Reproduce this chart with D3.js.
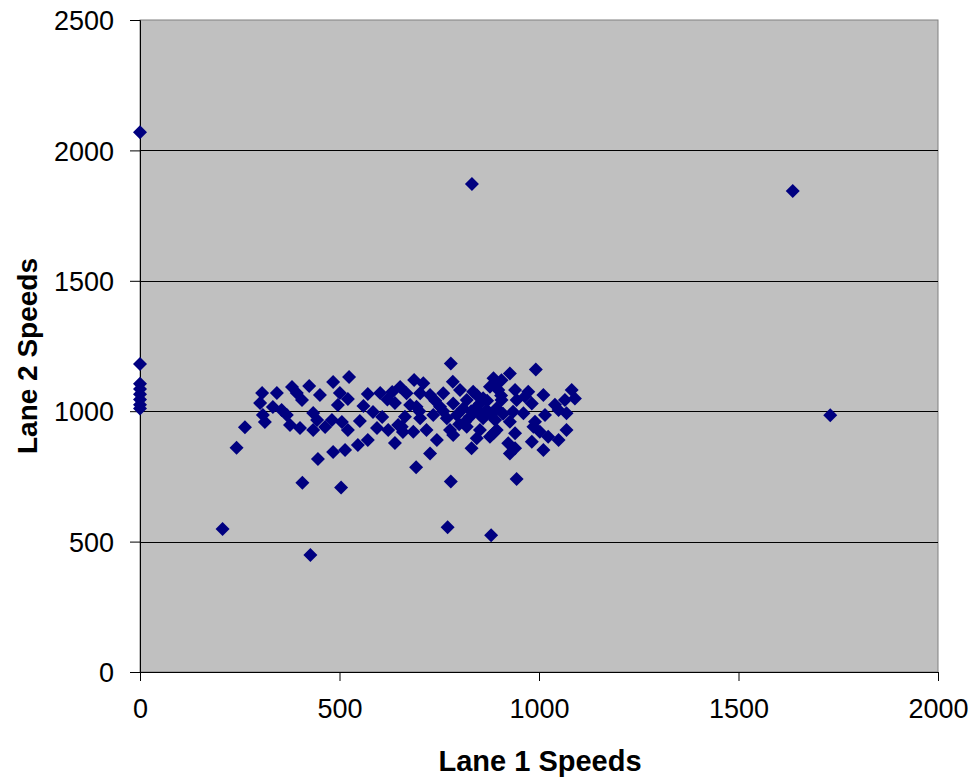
<!DOCTYPE html>
<html>
<head>
<meta charset="utf-8">
<script src="https://cdn.jsdelivr.net/npm/d3@7"></script>
<style>
  html, body { margin: 0; padding: 0; background: #ffffff; }
  svg { display: block; }
  text { font-family: "Liberation Sans", Arial, sans-serif; fill: #000; }
</style>
</head>
<body>
<svg id="chart" width="972" height="777"></svg>
<script>
// ---- data ----
const xTicks = [0, 500, 1000, 1500, 2000];
const yTicks = [0, 500, 1000, 1500, 2000, 2500];
const xTitle = "Lane 1 Speeds";
const yTitle = "Lane 2 Speeds";

const lane1 = [
  0, 0, 0, 0, 0, 0, 0, 0,
  306, 301, 308, 313, 333, 343, 381, 368, 376, 401, 393, 406,
  424, 484, 524, 451, 501, 521, 496, 571, 602, 632, 652, 639, 584, 607, 434, 444, 434, 464, 481, 506, 521, 551, 594, 622, 647, 571, 546, 514, 484, 446, 639, 659,
  779, 687, 710, 784, 668, 702, 727, 760, 802, 835, 886, 877, 898, 677, 693, 752, 785, 819, 852, 869, 894, 664, 702, 735, 769, 794, 827, 860, 890, 656, 685, 718, 777, 819, 852, 886, 744, 785, 844, 877, 831, 727, 692,
  992, 927, 906, 894, 940, 973, 1011, 1082, 1090, 1065, 906, 944, 982, 965, 935, 961, 1015, 1049, 1069, 927, 990, 986, 1069, 894, 940, 1002, 1023, 1049, 923, 982, 940, 1011, 927, 944,
  840, 830, 850, 810, 860, 845, 815, 870, 800, 760, 880, 910,
  355, 560, 620, 700, 740, 905, 1040,
  207, 427, 407, 504, 779, 771, 880, 263, 242, 832, 1636, 1730
];
const lane2 = [
  2070, 1181, 1105, 1085, 1065, 1045, 1025, 1010,
  1070, 1031, 985, 959, 1016, 1070, 1093, 985, 947, 936, 1070, 1043,
  1097, 1112, 1131, 1062, 1070, 1047, 1024, 1066, 1070, 1074, 1093, 1031, 997, 978, 993, 966, 928, 939, 966, 959, 928, 962, 936, 928, 947, 890, 870, 851, 844, 817, 878, 920,
  1183, 1120, 1107, 1113, 1069, 1069, 1062, 1069, 1081, 1075, 1126, 1094, 1081, 1024, 1017, 1017, 1030, 1043, 1030, 1005, 1011, 979, 973, 985, 973, 985, 979, 973, 966, 940, 921, 928, 928, 940, 928, 915, 890, 909, 896, 902, 858, 838, 785,
  1160, 1145, 1119, 1107, 1081, 1075, 1062, 1081, 1049, 1043, 1043, 1043, 1030, 1056, 998, 992, 985, 1005, 992, 960, 960, 940, 928, 928, 915, 921, 902, 890, 877, 883, 858, 851, 838, 740,
  1010, 1000, 990, 1010, 1050, 1060, 960, 1040, 950, 1000, 985, 990,
  1005, 1020, 1045, 1000, 1040, 1060, 1025,
  548, 449, 726, 707, 730, 555, 524, 938, 860, 1871, 1844, 984
];

// ---- layout ----
const svg = d3.select("#chart");
const L = 140, R = 938, T = 20, B = 672;
const x = d3.scaleLinear().domain([0, 2000]).range([L, R]);
const y = d3.scaleLinear().domain([0, 2500]).range([B, T]);

// plot area
svg.append("rect")
  .attr("x", L).attr("y", T).attr("width", R - L).attr("height", B - T)
  .attr("fill", "#c0c0c0").attr("stroke", "#808080").attr("stroke-width", 1);

// gridlines
svg.append("g").selectAll("line")
  .data(yTicks.filter(d => d > 0 && d < 2500))
  .join("line")
  .attr("x1", L).attr("x2", R)
  .attr("y1", d => Math.round(y(d)) + 0.5).attr("y2", d => Math.round(y(d)) + 0.5)
  .attr("stroke", "#000").attr("stroke-width", 1);

// axes
const xAxis = d3.axisBottom(x).tickValues(xTicks).tickSize(9).tickPadding(18).tickFormat(d3.format("d"));
const gx = svg.append("g").attr("transform", `translate(0,${B})`).call(xAxis);
gx.select(".domain").attr("stroke", "#000");
gx.selectAll(".tick line").attr("stroke", "#000");
gx.selectAll("text").attr("font-size", 27).attr("font-family", "Liberation Sans, Arial, sans-serif").attr("fill", "#000");

const yAxis = d3.axisLeft(y).tickValues(yTicks).tickSize(10).tickPadding(16).tickFormat(d3.format("d"));
const gy = svg.append("g").attr("transform", `translate(${L},0)`).call(yAxis);
gy.select(".domain").attr("stroke", "#000");
gy.selectAll(".tick line").attr("stroke", "#000");
gy.selectAll("text").attr("font-size", 27).attr("font-family", "Liberation Sans, Arial, sans-serif").attr("fill", "#000").attr("dy", "0.36em");

// points
const pts = lane1.map((v, i) => [v, lane2[i]]);
svg.append("g").selectAll("path")
  .data(pts)
  .join("path")
  .attr("transform", d => `translate(${x(d[0])},${y(d[1])})`)
  .attr("d", "M0,-7L7,0L0,7L-7,0Z")
  .attr("fill", "#000080");

// titles
svg.append("text")
  .attr("x", 540).attr("y", 771)
  .attr("text-anchor", "middle")
  .attr("font-size", 29).attr("font-weight", "bold")
  .text(xTitle);

svg.append("text")
  .attr("transform", `translate(37,356) rotate(-90)`)
  .attr("text-anchor", "middle")
  .attr("font-size", 28).attr("font-weight", "bold")
  .text(yTitle);
</script>
</body>
</html>
